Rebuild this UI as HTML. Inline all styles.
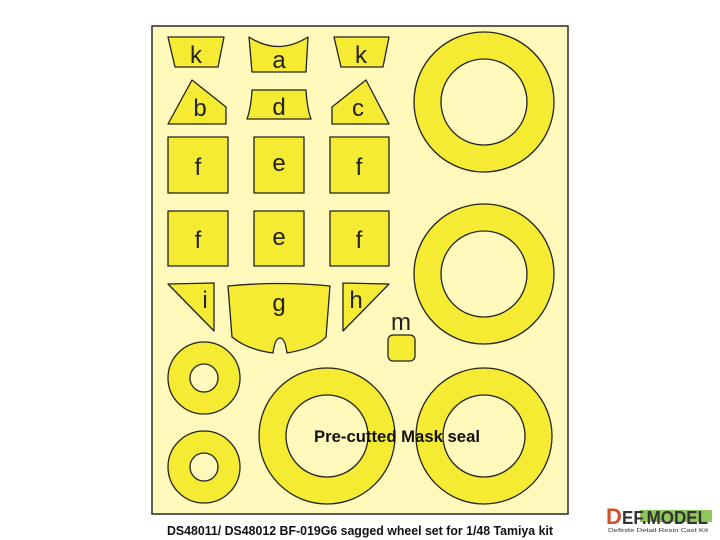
<!DOCTYPE html>
<html><head><meta charset="utf-8"><style>
html,body{margin:0;padding:0;background:#fff;}
svg{display:block}
text{font-family:"Liberation Sans",sans-serif;}
</style></head><body>
<svg width="720" height="540" viewBox="0 0 720 540" xmlns="http://www.w3.org/2000/svg">
<rect x="0" y="0" width="720" height="540" fill="#fff"/>
<rect x="152" y="26" width="416" height="488" fill="#fff9bb" stroke="#2a2a2a" stroke-width="1.5"/>
<g fill="#f5eb33" stroke="#222" stroke-width="1.3" stroke-linejoin="round">
<polygon points="168,37 224,37 218,67 175,67"/>
<path d="M249,37 Q278,56 308,37 L306,72 L252,72 Z"/>
<polygon points="334,37 389,37 383,67 341,67"/>
<polygon points="168,124 192,80 226,107 226,124"/>
<path d="M252,90 L306,90 Q307,108 311,119 L247,119 Q251,108 252,90 Z"/>
<polygon points="332,107 366,80 389,124 332,124"/>
<rect x="168" y="137" width="60" height="56"/>
<rect x="254" y="137" width="50" height="56"/>
<rect x="330" y="137" width="59" height="56"/>
<rect x="168" y="211" width="60" height="55"/>
<rect x="254" y="211" width="50" height="55"/>
<rect x="330" y="211" width="59" height="55"/>
<polygon points="168,284 214,283 214,331"/>
<polygon points="343,283 389,284 343,331"/>
<path d="M228,286 Q279,281 330,286 L326,337 Q316,348 287,353 Q285,338 280,338 Q275,338 273,353 Q248,350 232,337 Z"/>
<rect x="388" y="335" width="27" height="26" rx="5"/>
<path fill-rule="evenodd" d="M414,102 a70,70 0 1,0 140,0 a70,70 0 1,0 -140,0 Z M441,102 a43,43 0 1,0 86,0 a43,43 0 1,0 -86,0 Z"/>
<path fill-rule="evenodd" d="M414,274 a70,70 0 1,0 140,0 a70,70 0 1,0 -140,0 Z M441,274 a43,43 0 1,0 86,0 a43,43 0 1,0 -86,0 Z"/>
<path fill-rule="evenodd" d="M416,436 a68,68 0 1,0 136,0 a68,68 0 1,0 -136,0 Z M443,436 a41,41 0 1,0 82,0 a41,41 0 1,0 -82,0 Z"/>
<path fill-rule="evenodd" d="M259,436 a68,68 0 1,0 136,0 a68,68 0 1,0 -136,0 Z M286,436 a41,41 0 1,0 82,0 a41,41 0 1,0 -82,0 Z"/>
<path fill-rule="evenodd" d="M168,378 a36,36 0 1,0 72,0 a36,36 0 1,0 -72,0 Z M190,378 a14,14 0 1,0 28,0 a14,14 0 1,0 -28,0 Z"/>
<path fill-rule="evenodd" d="M168,467 a36,36 0 1,0 72,0 a36,36 0 1,0 -72,0 Z M190,467 a14,14 0 1,0 28,0 a14,14 0 1,0 -28,0 Z"/>
</g>
<g font-size="24" fill="#222" text-anchor="middle">
<text x="196" y="63">k</text>
<text x="279" y="68">a</text>
<text x="361" y="63">k</text>
<text x="200" y="116">b</text>
<text x="279" y="115">d</text>
<text x="358" y="116">c</text>
<text x="198" y="175">f</text>
<text x="279" y="171">e</text>
<text x="359" y="175">f</text>
<text x="198" y="248">f</text>
<text x="279" y="245">e</text>
<text x="359" y="248">f</text>
<text x="205" y="308">i</text>
<text x="279" y="311">g</text>
<text x="356" y="308">h</text>
<text x="401" y="330">m</text>
</g>
<text x="397" y="442" font-size="17" font-weight="bold" text-anchor="middle" fill="#111" textLength="166" lengthAdjust="spacingAndGlyphs">Pre-cutted Mask seal</text>
<text x="360" y="535" font-size="13" font-weight="bold" text-anchor="middle" fill="#111" textLength="386" lengthAdjust="spacingAndGlyphs">DS48011/ DS48012 BF-019G6 sagged wheel set for 1/48 Tamiya kit</text>
<rect x="640" y="510" width="72" height="12" fill="#8fc75a"/>
<text x="606" y="524" font-size="22" font-weight="bold" fill="#d0502a" font-family="Liberation Serif,serif">D</text>
<text x="622" y="524" font-size="18" font-weight="bold" fill="#333" textLength="86" lengthAdjust="spacingAndGlyphs" font-family="Liberation Serif,serif">EF.MODEL</text>
<text x="608" y="532" font-size="5" fill="#333" textLength="100" lengthAdjust="spacingAndGlyphs" font-family="Liberation Mono,monospace">Definite Detail Resin Cast Kit</text>
</svg>
</body></html>
